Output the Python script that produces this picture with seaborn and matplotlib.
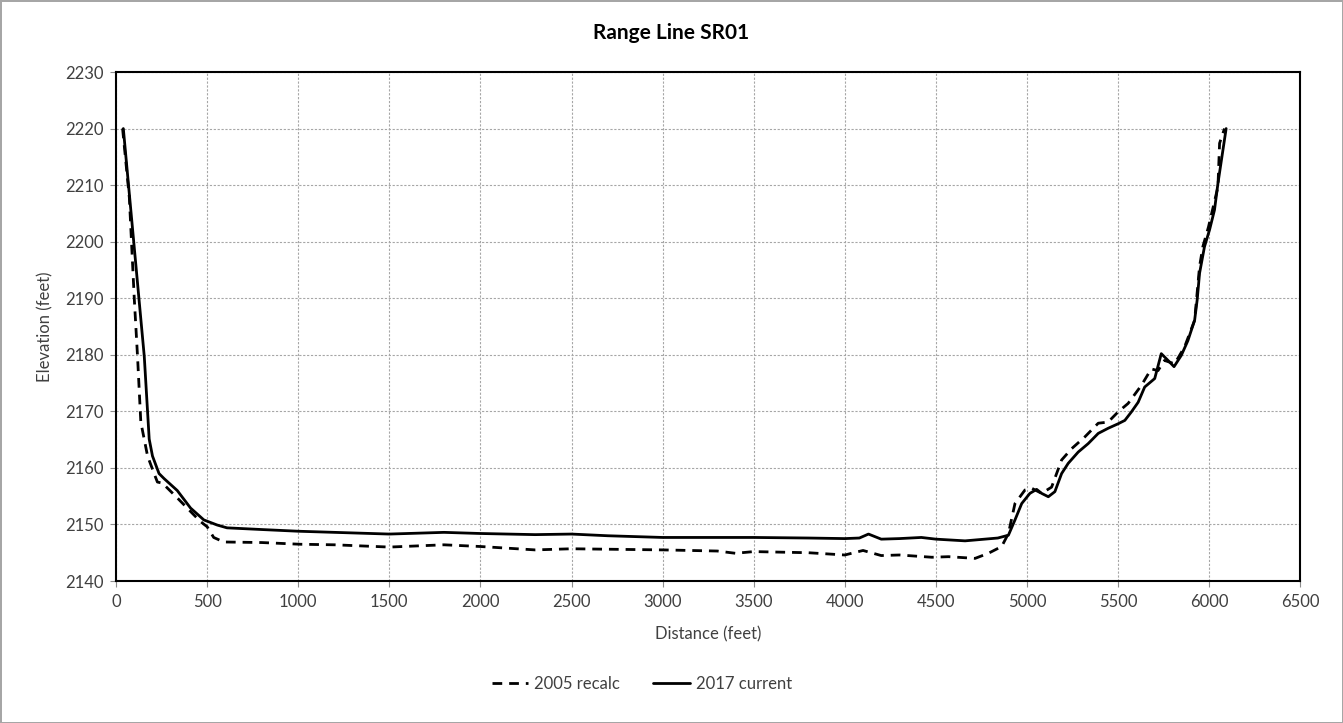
import matplotlib
matplotlib.use("Agg")
import matplotlib.pyplot as plt
import pandas as pd
import seaborn as sns

# distance (ft) / elevation (ft)
dist_2005 = [36, 73, 100, 118, 136, 173, 209, 227, 255, 336, 427, 464, 500, 536, 591,
             800, 1009, 1200, 1500, 1800, 2000, 2300, 2500, 3000, 3300, 3400, 3500,
             3800, 4000, 4100, 4200, 4300, 4478, 4569, 4715, 4788, 4861, 4898, 4934,
             4989, 5026, 5080, 5135, 5190, 5245, 5318, 5391, 5445, 5500, 5555, 5628,
             5682, 5719, 5755, 5810, 5865, 5920, 5947, 5965, 5996, 6048, 6057, 6084]
elev_2005 = [2220, 2207.8, 2190, 2179.7, 2168.1, 2162.1, 2159, 2157.5, 2157.3, 2154.7,
             2151.7, 2150.5, 2149.6, 2147.7, 2146.9, 2146.8, 2146.5, 2146.4, 2146.0,
             2146.4, 2146.1, 2145.5, 2145.7, 2145.5, 2145.3, 2144.9, 2145.2, 2145.0,
             2144.6, 2145.4, 2144.5, 2144.6, 2144.2, 2144.3, 2144.0, 2144.9, 2146.1,
             2148.4, 2153.7, 2156.1, 2156.4, 2155.5, 2156.6, 2161.4, 2163.4, 2165.5,
             2167.9, 2168.1, 2169.9, 2171.4, 2174.6, 2177.5, 2177.2, 2179.0, 2178.4,
             2181.4, 2186.1, 2195.6, 2199.1, 2202.6, 2209.7, 2217.4, 2220]

dist_2017 = [40, 127, 155, 182, 200, 236, 264, 336, 409, 482, 555, 609, 800, 1000, 1200,
             1500, 1800, 2000, 2300, 2500, 2700, 3000, 3300, 3500, 3800, 4000, 4080,
             4130, 4200, 4300, 4420, 4500, 4660, 4840, 4898, 4934, 4971, 5016, 5053,
             5080, 5117, 5153, 5190, 5226, 5281, 5336, 5391, 5445, 5500, 5537, 5573,
             5610, 5646, 5701, 5737, 5774, 5807, 5847, 5883, 5920, 5934, 5947, 5974,
             6002, 6029, 6048, 6093]
elev_2017 = [2220, 2189.5, 2179.7, 2165.1, 2162.1, 2159.0, 2158.1, 2156.0, 2152.9,
             2150.8, 2149.9, 2149.4, 2149.1, 2148.8, 2148.6, 2148.3, 2148.6, 2148.4,
             2148.2, 2148.3, 2148.0, 2147.7, 2147.7, 2147.7, 2147.6, 2147.5, 2147.6,
             2148.3, 2147.4, 2147.5, 2147.7, 2147.4, 2147.1, 2147.6, 2148.1, 2150.8,
             2153.7, 2155.5, 2156.2, 2155.5, 2154.9, 2155.8, 2159.0, 2160.8, 2162.8,
             2164.3, 2166.1, 2167.0, 2167.8, 2168.4, 2169.9, 2171.6, 2174.3, 2175.8,
             2180.2, 2179.0, 2177.9, 2179.9, 2182.5, 2186.1, 2189.7, 2194.4, 2199.1,
             2202.1, 2205.6, 2210.3, 2220]

x_ticks = list(range(0, 6501, 500))
y_ticks = list(range(2140, 2231, 10))

sns.set_theme(style="ticks")
plt.rcParams["font.family"] = ["Lato", "DejaVu Sans"]

fig = plt.figure(figsize=(13.43, 7.23), dpi=100)
fig.patch.set_edgecolor("#a6a6a6")
fig.patch.set_linewidth(2)
ax = fig.add_axes([0.0864, 0.1964, 0.8818, 0.704])

df05 = pd.DataFrame({"dist": dist_2005, "elev": elev_2005})
df17 = pd.DataFrame({"dist": dist_2017, "elev": elev_2017})
sns.lineplot(data=df05, x="dist", y="elev", ax=ax, sort=False, color="black",
             linewidth=2.0, label="2005 recalc", zorder=3)
sns.lineplot(data=df17, x="dist", y="elev", ax=ax, sort=False, color="black",
             linewidth=2.0, label="2017 current", zorder=4)
ax.lines[0].set_dashes((3.5, 2.5))

ax.set_xlim(0, 6500)
ax.set_ylim(2140, 2230)
ax.set_xticks(x_ticks)
ax.set_yticks(y_ticks)
ax.grid(True, color="#a6a6a6", linestyle=(0, (2, 1.5)), linewidth=0.8, zorder=0)
for s in ax.spines.values():
    s.set_color("black")
    s.set_linewidth(1.5)
ax.tick_params(axis="both", direction="out", length=4, width=0.8, color="#8c8c8c",
               labelsize=12, labelcolor="#404040", pad=5)

ax.set_xlabel("Distance (feet)", fontsize=12, color="#404040", labelpad=12)
ax.set_ylabel("Elevation (feet)", fontsize=12, color="#404040", labelpad=8)
fig.text(0.5, 0.955, "Range Line SR01", ha="center", va="center", fontsize=15,
         fontweight="bold", color="black")

ax.legend(loc="center", bbox_to_anchor=(0.478, 0.054), bbox_transform=fig.transFigure,
          ncol=2, frameon=False, fontsize=12, handlelength=2.2, handletextpad=0.35,
          columnspacing=2.0, labelcolor="#404040")

plt.savefig("out.png", dpi=100)
